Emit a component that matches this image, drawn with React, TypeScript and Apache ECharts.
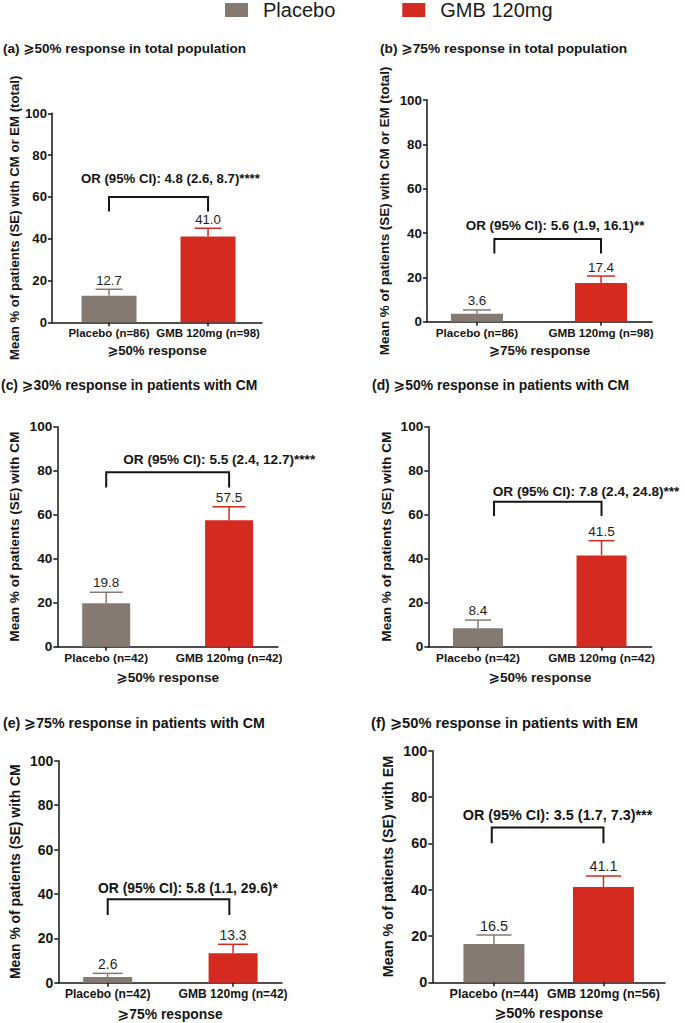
import React, { useEffect, useRef } from "react";
import * as echarts from "echarts";

// ---------- DATA ----------
const seriesNames = ["Placebo", "GMB 120mg"];
const panelTitles = [
  "(a) ⩾50% response in total population",
  "(b) ⩾75% response in total population",
  "(c) ⩾30% response in patients with CM",
  "(d) ⩾50% response in patients with CM",
  "(e) ⩾75% response in patients with CM",
  "(f) ⩾50% response in patients with EM",
];
const yAxisTitles = [
  "Mean % of patients (SE) with CM or EM (total)",
  "Mean % of patients (SE) with CM or EM (total)",
  "Mean % of patients (SE) with CM",
  "Mean % of patients (SE) with CM",
  "Mean % of patients (SE) with CM",
  "Mean % of patients (SE) with EM",
];
const xAxisNames = [
  "⩾50% response",
  "⩾75% response",
  "⩾50% response",
  "⩾50% response",
  "⩾75% response",
  "⩾50% response",
];
const placeboLabels = ["Placebo (n=86)", "Placebo (n=86)", "Placebo (n=42)", "Placebo (n=42)", "Placebo (n=42)", "Placebo (n=44)"];
const gmbLabels = ["GMB 120mg (n=98)", "GMB 120mg (n=98)", "GMB 120mg (n=42)", "GMB 120mg (n=42)", "GMB 120mg (n=42)", "GMB 120mg (n=56)"];
const placeboMean = [12.7, 3.6, 19.8, 8.4, 2.6, 16.5];
const placeboSE = [3.1, 1.7, 4.9, 3.7, 1.6, 3.9];
const gmbMean = [41.0, 17.4, 57.5, 41.5, 13.3, 41.1];
const gmbSE = [4.0, 3.2, 6.1, 6.7, 4.0, 4.8];
const orTexts = [
  "OR (95% CI): 4.8 (2.6, 8.7)****",
  "OR (95% CI): 5.6 (1.9, 16.1)**",
  "OR (95% CI): 5.5 (2.4, 12.7)****",
  "OR (95% CI): 7.8 (2.4, 24.8)***",
  "OR (95% CI): 5.8 (1.1, 29.6)*",
  "OR (95% CI): 3.5 (1.7, 7.3)***",
];
const bracketTop = [60, 37.3, 79.3, 65.9, 37.6, 66.8];
const bracketBottom = [53, 30.8, 72.4, 59.4, 30.5, 60];
const yMin = 0;
const yMax = 100;
const yInterval = 20;

// ---------- LAYOUT / STYLE ----------
const FONT = "'Liberation Sans', Arial, 'DejaVu Sans', sans-serif";
const COLORS = ["#857a72", "#d52a20"];
const INK = "#141414";

const layout = [
  { l: 52, t: 113.3, r: 262, b: 322.3, xMin: -0.576, xMax: 1.545, barW: 55, cap: 27, fs: 13.2, tX: 3, tY: 48, yGap: 31, xGap: 22, bl: 0, br: 1, tx: 0.62, ty: 69 },
  { l: 427, t: 100, r: 652, b: 321.7, xMin: -0.403, xMax: 1.411, barW: 52, cap: 28, fs: 13.4, tX: 380, tY: 48, yGap: 36, xGap: 22, bl: 0.14, br: 1, tx: 0.63, ty: 43.6 },
  { l: 57.3, t: 426.7, r: 278, b: 646.7, xMin: -0.398, xMax: 1.398, barW: 48, cap: 33, fs: 13.6, tX: 1, tY: 385, yGap: 36, xGap: 24, bl: 0, br: 1, tx: 0.92, ty: 84.9 },
  { l: 428.3, t: 426.7, r: 651.7, b: 646.7, xMin: -0.402, xMax: 1.406, barW: 50, cap: 26, fs: 13.6, tX: 372, tY: 385, yGap: 35, xGap: 24, bl: 0.13, br: 1, tx: 0.875, ty: 70.5 },
  { l: 58.3, t: 760.7, r: 282, b: 982.7, xMin: -0.394, xMax: 1.39, barW: 49, cap: 30, fs: 13.9, tX: 3, tY: 723, yGap: 36.7, xGap: 24, bl: 0, br: 0.97, tx: 0.64, ty: 42.5 },
  { l: 432.3, t: 750.7, r: 665, b: 982.3, xMin: -0.563, xMax: 1.562, barW: 61, cap: 35, fs: 14.4, tX: 371, tY: 723, yGap: 37, xGap: 24, bl: -0.02, br: 1, tx: 0.58, ty: 72.2 },
];

function buildOption() {
  const grid: any[] = [];
  const xAxis: any[] = [];
  const yAxis: any[] = [];
  const series: any[] = [];
  const graphic: any[] = [];

  layout.forEach((L, i) => {
    const cats = [placeboLabels[i], gmbLabels[i]];
    grid.push({ left: L.l, top: L.t, width: L.r - L.l, height: L.b - L.t, containLabel: false });
    xAxis.push({
      type: "value",
      gridIndex: i,
      min: L.xMin,
      max: L.xMax,
      name: xAxisNames[i],
      nameLocation: "middle",
      nameGap: L.xGap,
      nameTextStyle: { fontFamily: FONT, fontWeight: "bold", fontSize: L.fs, color: INK },
      axisLine: { show: true, onZero: false, lineStyle: { color: INK, width: 1.5 } },
      axisTick: { show: true, length: 4, customValues: [0, 1], lineStyle: { color: INK, width: 1.5 } },
      axisLabel: {
        show: true,
        customValues: [0, 1],
        margin: 5,
        formatter: (v: number) => cats[Math.round(v)] ?? "",
        fontFamily: FONT,
        fontWeight: "bold",
        fontSize: L.fs * 0.87,
        color: INK,
      },
      splitLine: { show: false },
    });
    yAxis.push({
      type: "value",
      gridIndex: i,
      min: yMin,
      max: yMax,
      interval: yInterval,
      name: yAxisTitles[i],
      nameLocation: "middle",
      nameGap: L.yGap,
      nameTextStyle: { fontFamily: FONT, fontWeight: "bold", fontSize: L.fs, color: INK },
      axisLine: { show: true, onZero: false, lineStyle: { color: INK, width: 1.5 } },
      axisTick: { show: true, length: 4, lineStyle: { color: INK, width: 1.5 } },
      axisLabel: { margin: 5, fontFamily: FONT, fontWeight: "bold", fontSize: L.fs, color: INK },
      splitLine: { show: false },
    });

    const means = [placeboMean[i], gmbMean[i]];
    const ses = [placeboSE[i], gmbSE[i]];
    [0, 1].forEach((k) => {
      series.push({
        type: "bar",
        name: seriesNames[k],
        xAxisIndex: i,
        yAxisIndex: i,
        barWidth: L.barW,
        barGap: "-100%",
        itemStyle: { color: COLORS[k] },
        data: [[k, means[k]]],
        silent: true,
      });
    });

    // error bars (upper SE) with value labels
    series.push({
      type: "custom",
      xAxisIndex: i,
      yAxisIndex: i,
      encode: { x: 0, y: 1 },
      silent: true,
      z: 3,
      data: [0, 1].map((k) => [k, means[k], ses[k]]),
      renderItem: (params: any, api: any) => {
        const k = api.value(0);
        const m = api.value(1);
        const se = api.value(2);
        const p0 = api.coord([k, m]);
        const p1 = api.coord([k, m + se]);
        const c = COLORS[k];
        const h = L.cap / 2;
        return {
          type: "group",
          children: [
            { type: "line", shape: { x1: p0[0], y1: p0[1], x2: p1[0], y2: p1[1] }, style: { stroke: c, lineWidth: 1.5 } },
            { type: "line", shape: { x1: p1[0] - h, y1: p1[1], x2: p1[0] + h, y2: p1[1] }, style: { stroke: c, lineWidth: 1.5 } },
            {
              type: "text",
              style: {
                text: m.toFixed(1),
                x: p1[0],
                y: p1[1] - 2.5,
                align: "center",
                verticalAlign: "bottom",
                fontFamily: FONT,
                fontSize: L.fs,
                fill: "#1e1e1e",
              },
            },
          ],
        };
      },
    });

    // significance bracket with OR annotation
    series.push({
      type: "custom",
      xAxisIndex: i,
      yAxisIndex: i,
      encode: { x: 0, y: 1 },
      silent: true,
      z: 4,
      data: [[0, bracketTop[i], bracketBottom[i]]],
      renderItem: (params: any, api: any) => {
        const top = api.value(1);
        const bot = api.value(2);
        const a = api.coord([L.bl, bot]);
        const b = api.coord([L.bl, top]);
        const c = api.coord([L.br, top]);
        const d = api.coord([L.br, bot]);
        const tp = api.coord([L.tx, L.ty]);
        return {
          type: "group",
          children: [
            { type: "polyline", shape: { points: [a, b, c, d] }, style: { stroke: INK, lineWidth: 2, fill: "none" } },
            {
              type: "text",
              style: {
                text: orTexts[i],
                x: tp[0],
                y: tp[1],
                align: "center",
                verticalAlign: "middle",
                fontFamily: FONT,
                fontWeight: "bold",
                fontSize: L.fs,
                fill: INK,
              },
            },
          ],
        };
      },
    });

    graphic.push({
      type: "text",
      x: L.tX,
      y: L.tY,
      silent: true,
      style: {
        text: panelTitles[i],
        fontFamily: FONT,
        fontWeight: "bold",
        fontSize: L.fs + 0.3,
        fill: INK,
        verticalAlign: "middle",
      },
    });
  });

  return {
    animation: false,
    backgroundColor: "#ffffff",
    legend: {
      data: seriesNames,
      left: 225,
      top: 0,
      padding: 0,
      icon: "rect",
      itemWidth: 23,
      itemHeight: 14,
      itemGap: 67,
      selectedMode: false,
      textStyle: { fontFamily: FONT, fontSize: 20, color: "#1a1a1a", padding: [0, 0, 0, 10], lineHeight: 17 },
    },
    grid,
    xAxis,
    yAxis,
    series,
    graphic,
  };
}

export default function App() {
  const ref = useRef<HTMLDivElement>(null);
  useEffect(() => {
    if (!ref.current) return;
    const chart = echarts.init(ref.current, undefined, { renderer: "svg" });
    chart.setOption(buildOption() as any);
    return () => chart.dispose();
  }, []);
  return (
    <div
      ref={ref}
      style={{ position: "absolute", left: 0, top: 0, width: 685, height: 1023, background: "#fff" }}
    />
  );
}
